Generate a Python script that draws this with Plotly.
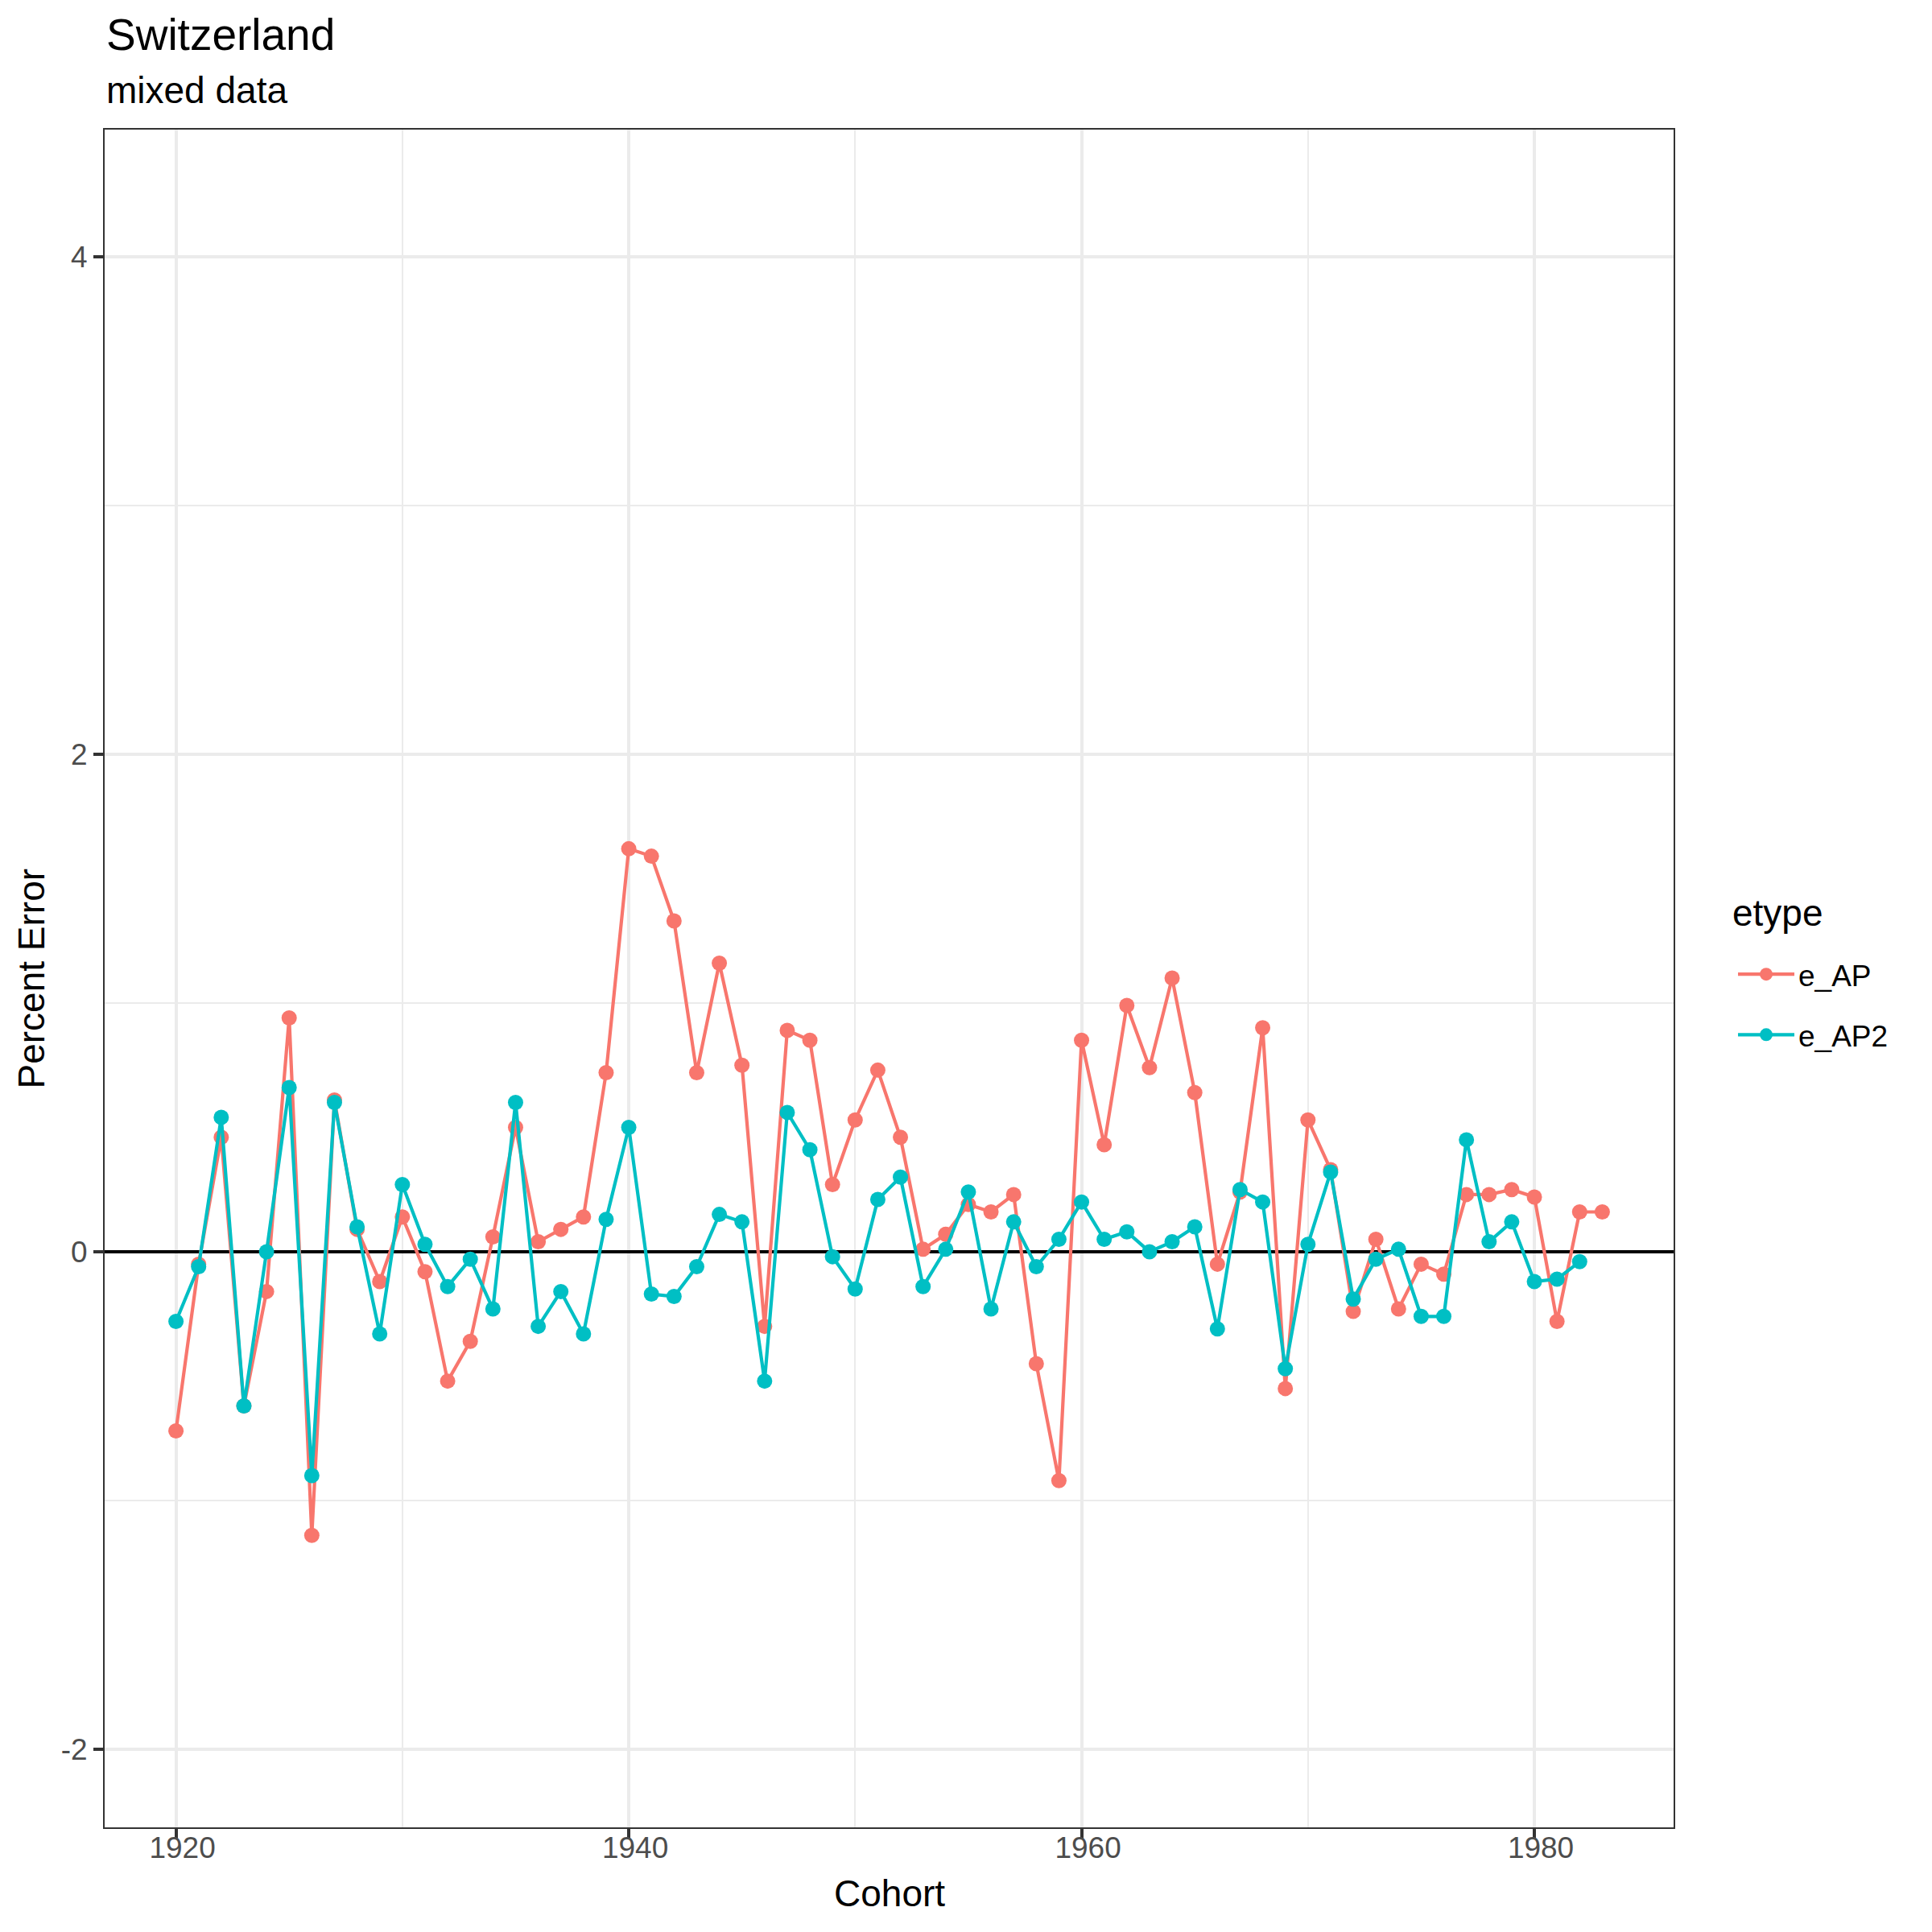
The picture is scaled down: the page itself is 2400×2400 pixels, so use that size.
import plotly.graph_objects as go

# cohorts and percent errors
cohort_ap = list(range(1920, 1984))
e_ap = [
    -0.72, -0.05, 0.46, -0.62, -0.16, 0.94, -1.14, 0.61, 0.09, -0.12,
    0.14, -0.08, -0.52, -0.36, 0.06, 0.50, 0.04, 0.09, 0.14, 0.72,
    1.62, 1.59, 1.33, 0.72, 1.16, 0.75, -0.30, 0.89, 0.85, 0.27,
    0.53, 0.73, 0.46, 0.01, 0.07, 0.19, 0.16, 0.23, -0.45, -0.92,
    0.85, 0.43, 0.99, 0.74, 1.10, 0.64, -0.05, 0.24, 0.90, -0.55,
    0.53, 0.33, -0.24, 0.05, -0.23, -0.05, -0.09, 0.23, 0.23, 0.25,
    0.22, -0.28, 0.16, 0.16,
]

cohort_ap2 = list(range(1920, 1983))
e_ap2 = [
    -0.28, -0.06, 0.54, -0.62, 0.00, 0.66, -0.90, 0.60, 0.10, -0.33,
    0.27, 0.03, -0.14, -0.03, -0.23, 0.60, -0.30, -0.16, -0.33, 0.13,
    0.50, -0.17, -0.18, -0.06, 0.15, 0.12, -0.52, 0.56, 0.41, -0.02,
    -0.15, 0.21, 0.30, -0.14, 0.01, 0.24, -0.23, 0.12, -0.06, 0.05,
    0.20, 0.05, 0.08, 0.00, 0.04, 0.10, -0.31, 0.25, 0.20, -0.47,
    0.03, 0.32, -0.19, -0.03, 0.01, -0.26, -0.26, 0.45, 0.04, 0.12,
    -0.12, -0.11, -0.04,
]

x_ticks = [1920, 1940, 1960, 1980]
y_ticks = [-2, 0, 2, 4]
y_ticktext = ["-2", "0", "2", "4"]

RED = "#F8766D"
CYAN = "#00BFC4"
FONT = "Liberation Sans, Arial, sans-serif"

fig = go.Figure()
fig.add_trace(go.Scatter(
    x=cohort_ap, y=e_ap, name="e_AP", mode="lines+markers", legendgroup="a",
    line=dict(color=RED, width=4.2), marker=dict(color=RED, size=19),
))
fig.add_trace(go.Scatter(
    x=cohort_ap2, y=e_ap2, name="e_AP2", mode="lines+markers", legendgroup="b",
    line=dict(color=CYAN, width=4.2), marker=dict(color=CYAN, size=19),
))

axis_common = dict(
    showline=True, mirror=True, linecolor="#333333", linewidth=2,
    ticks="outside", ticklen=12, tickwidth=4, tickcolor="#333333",
    tickfont=dict(family=FONT, size=37, color="#4D4D4D"),
    showgrid=True, gridcolor="#EBEBEB", gridwidth=4,
)

fig.update_xaxes(
    range=[1916.85, 1986.15], tickvals=x_ticks, zeroline=False,
    ticklabelstandoff=-20, ticklabelshift=8,
    minor=dict(tickvals=[1930, 1950, 1970], showgrid=True,
               gridcolor="#EBEBEB", gridwidth=2, ticks=""),
    **axis_common,
)
fig.update_yaxes(
    range=[-2.314, 4.511], tickvals=y_ticks, ticktext=y_ticktext,
    zeroline=True, zerolinecolor="black", zerolinewidth=4.2,
    minor=dict(tickvals=[-1, 1, 3], showgrid=True,
               gridcolor="#EBEBEB", gridwidth=2, ticks=""),
    **axis_common,
)

# the page body adds an 8px margin, so the figure is 8px smaller
fig.update_layout(
    width=2392, height=2392,
    margin=dict(l=122, r=321, t=153, b=130),
    plot_bgcolor="white", paper_bgcolor="white",
    font=dict(family=FONT, color="black"),
    legend=dict(
        font=dict(size=37, family=FONT),
        x=1.0385, xanchor="left", y=0.517, yanchor="top",
        itemwidth=70, tracegroupgap=24,
    ),
    annotations=[
        dict(text="Switzerland", x=0, y=1.056, xref="paper", yref="paper",
             xanchor="left", yanchor="middle", showarrow=False,
             font=dict(size=55, family=FONT)),
        dict(text="mixed data", x=0, y=1.023, xref="paper", yref="paper",
             xanchor="left", yanchor="middle", showarrow=False,
             font=dict(size=46, family=FONT)),
        dict(text="Cohort", x=0.5, y=-0.039, xref="paper", yref="paper",
             xanchor="center", yanchor="middle", showarrow=False,
             font=dict(size=46, family=FONT)),
        dict(text="Percent Error", x=-0.0467, y=0.5, xref="paper", yref="paper",
             xanchor="center", yanchor="middle", showarrow=False, textangle=-90,
             font=dict(size=46, family=FONT)),
        dict(text="etype", x=1.0364, y=0.5387, xref="paper", yref="paper",
             xanchor="left", yanchor="middle", showarrow=False,
             font=dict(size=46, family=FONT)),
    ],
)

fig.write_html("out.html")
